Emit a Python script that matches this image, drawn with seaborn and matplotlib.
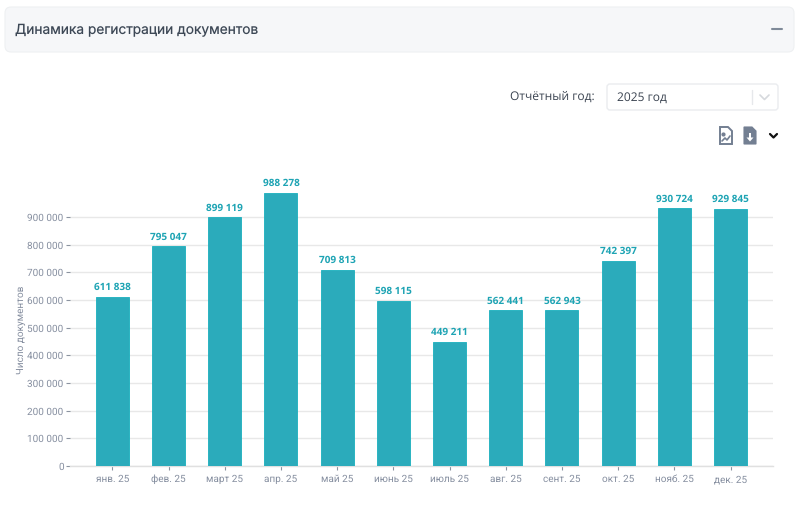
import pandas as pd
import seaborn as sns
import matplotlib
matplotlib.use("Agg")
import matplotlib.pyplot as plt
from matplotlib.patches import FancyBboxPatch, Polygon, Rectangle

months = ["янв. 25", "фев. 25", "март 25", "апр. 25", "май 25", "июнь 25",
          "июль 25", "авг. 25", "сент. 25", "окт. 25", "нояб. 25", "дек. 25"]
docs = [611838, 795047, 899119, 988278, 709813, 598115,
        449211, 562441, 562943, 742397, 930724, 929845]
y_ticks = [0, 100000, 200000, 300000, 400000, 500000, 600000, 700000, 800000, 900000]

teal = "#2babbb"
W, H = 800, 514


def fmt(v):
    return f"{v:,}".replace(",", " ")


sns.set_theme(style="white")
plt.rcParams["font.family"] = ["Roboto", "DejaVu Sans"]
plt.rcParams["text.hinting"] = "no_hinting"
plt.rcParams["text.hinting_factor"] = 1

fig = plt.figure(figsize=(W / 100, H / 100), dpi=100, facecolor="white")

# page furniture, drawn in pixel coordinates
bg = fig.add_axes([0, 0, 1, 1])
bg.set_xlim(0, W)
bg.set_ylim(H, 0)
bg.axis("off")

bg.add_patch(FancyBboxPatch((5, 7), 789, 45, boxstyle="round,pad=0,rounding_size=6",
                            fc="#f6f7f9", ec="#eef0f2", lw=0.8))
bg.text(15, 30, "Динамика регистрации документов", fontsize=9.9, color="#3d4856",
        family=["Inter", "DejaVu Sans"], va="center", ha="left")
bg.plot([772, 782], [28.5, 28.5], color="#7f8a99", lw=1.5)

bg.text(595, 97, "Отчётный год:", fontsize=8.95, color="#3a4350",
        family=["Open Sans", "DejaVu Sans"], va="center", ha="right")
bg.add_patch(FancyBboxPatch((607, 84), 171, 26, boxstyle="round,pad=0,rounding_size=3",
                            fc="white", ec="#eaecef", lw=1))
bg.text(617, 98, "2025 год", fontsize=8.4, color="#3a4350",
        family=["Open Sans", "DejaVu Sans"], va="center", ha="left")
bg.plot([751.5, 751.5], [90, 104], color="#e6e8eb", lw=1)
bg.plot([760, 764.5, 769], [95, 99.5, 95], color="#d6d9dd", lw=1.2)

# export icons
icon = "#737f92"
bg.add_patch(Polygon([(720, 127), (728, 127), (732, 131), (732, 144), (720, 144)],
                     fc="white", ec=icon, lw=1.4))
bg.plot([722, 725, 727, 730], [141, 138, 140, 136], color=icon, lw=1.2)
bg.plot([723], [134], "o", ms=2, color=icon)
bg.add_patch(Polygon([(744, 127), (752, 127), (756, 131), (756, 144), (744, 144)],
                     fc=icon, ec=icon, lw=0.8))
bg.add_patch(Rectangle((749, 133), 2, 5, fc="white", ec="none"))
bg.add_patch(Polygon([(746.5, 137.5), (753.5, 137.5), (750, 141.5)], fc="white", ec="none"))
bg.plot([770, 773.5, 777], [134, 137.5, 134], color="#111111", lw=1.6)

# chart, y=0 at 466 px, 900 000 at 217 px
left, right, top, bottom = 70, 773, 180, 466
ax = fig.add_axes([left / W, 1 - bottom / H, (right - left) / W, (bottom - top) / H])
ax.patch.set_alpha(0)

df = pd.DataFrame({"month": months, "docs": docs})
sns.barplot(data=df, x="month", y="docs", color=teal, saturation=1, width=0.59,
            edgecolor="#19afbd", linewidth=0.6, ax=ax, zorder=3)

ax.set_xlim(-0.753, 11.756)
ax.set_ylim(0, (bottom - top) / (249 / 900000))
ax.set_yticks(y_ticks)
ax.set_yticklabels([fmt(v) for v in y_ticks])
ax.grid(axis="y", color="#e8e8e8", lw=1, zorder=0)
ax.set_axisbelow(True)

for s in ["top", "right", "left"]:
    ax.spines[s].set_visible(False)
ax.spines["bottom"].set_color("#e0e0e0")
ax.spines["bottom"].set_linewidth(1)

ax.tick_params(axis="both", labelsize=7, labelcolor="#868fa0", color="#8b93a0",
               length=2.6, width=0.8, pad=2, bottom=True, left=True)
ax.tick_params(axis="x", pad=3.5)

ax.set_xlabel("")
ax.set_ylabel("Число документов", fontsize=7, color="#868fa0", labelpad=0)
ax.yaxis.set_label_coords((26 - left) / (right - left), (bottom - 330) / (bottom - top))

ax.bar_label(ax.containers[0], labels=[fmt(v) for v in docs], padding=3, color="#1ea4b4",
             fontsize=7.3, fontweight="bold", family=["Open Sans", "DejaVu Sans"], clip_on=False)

fig.savefig("out.png", dpi=100)
